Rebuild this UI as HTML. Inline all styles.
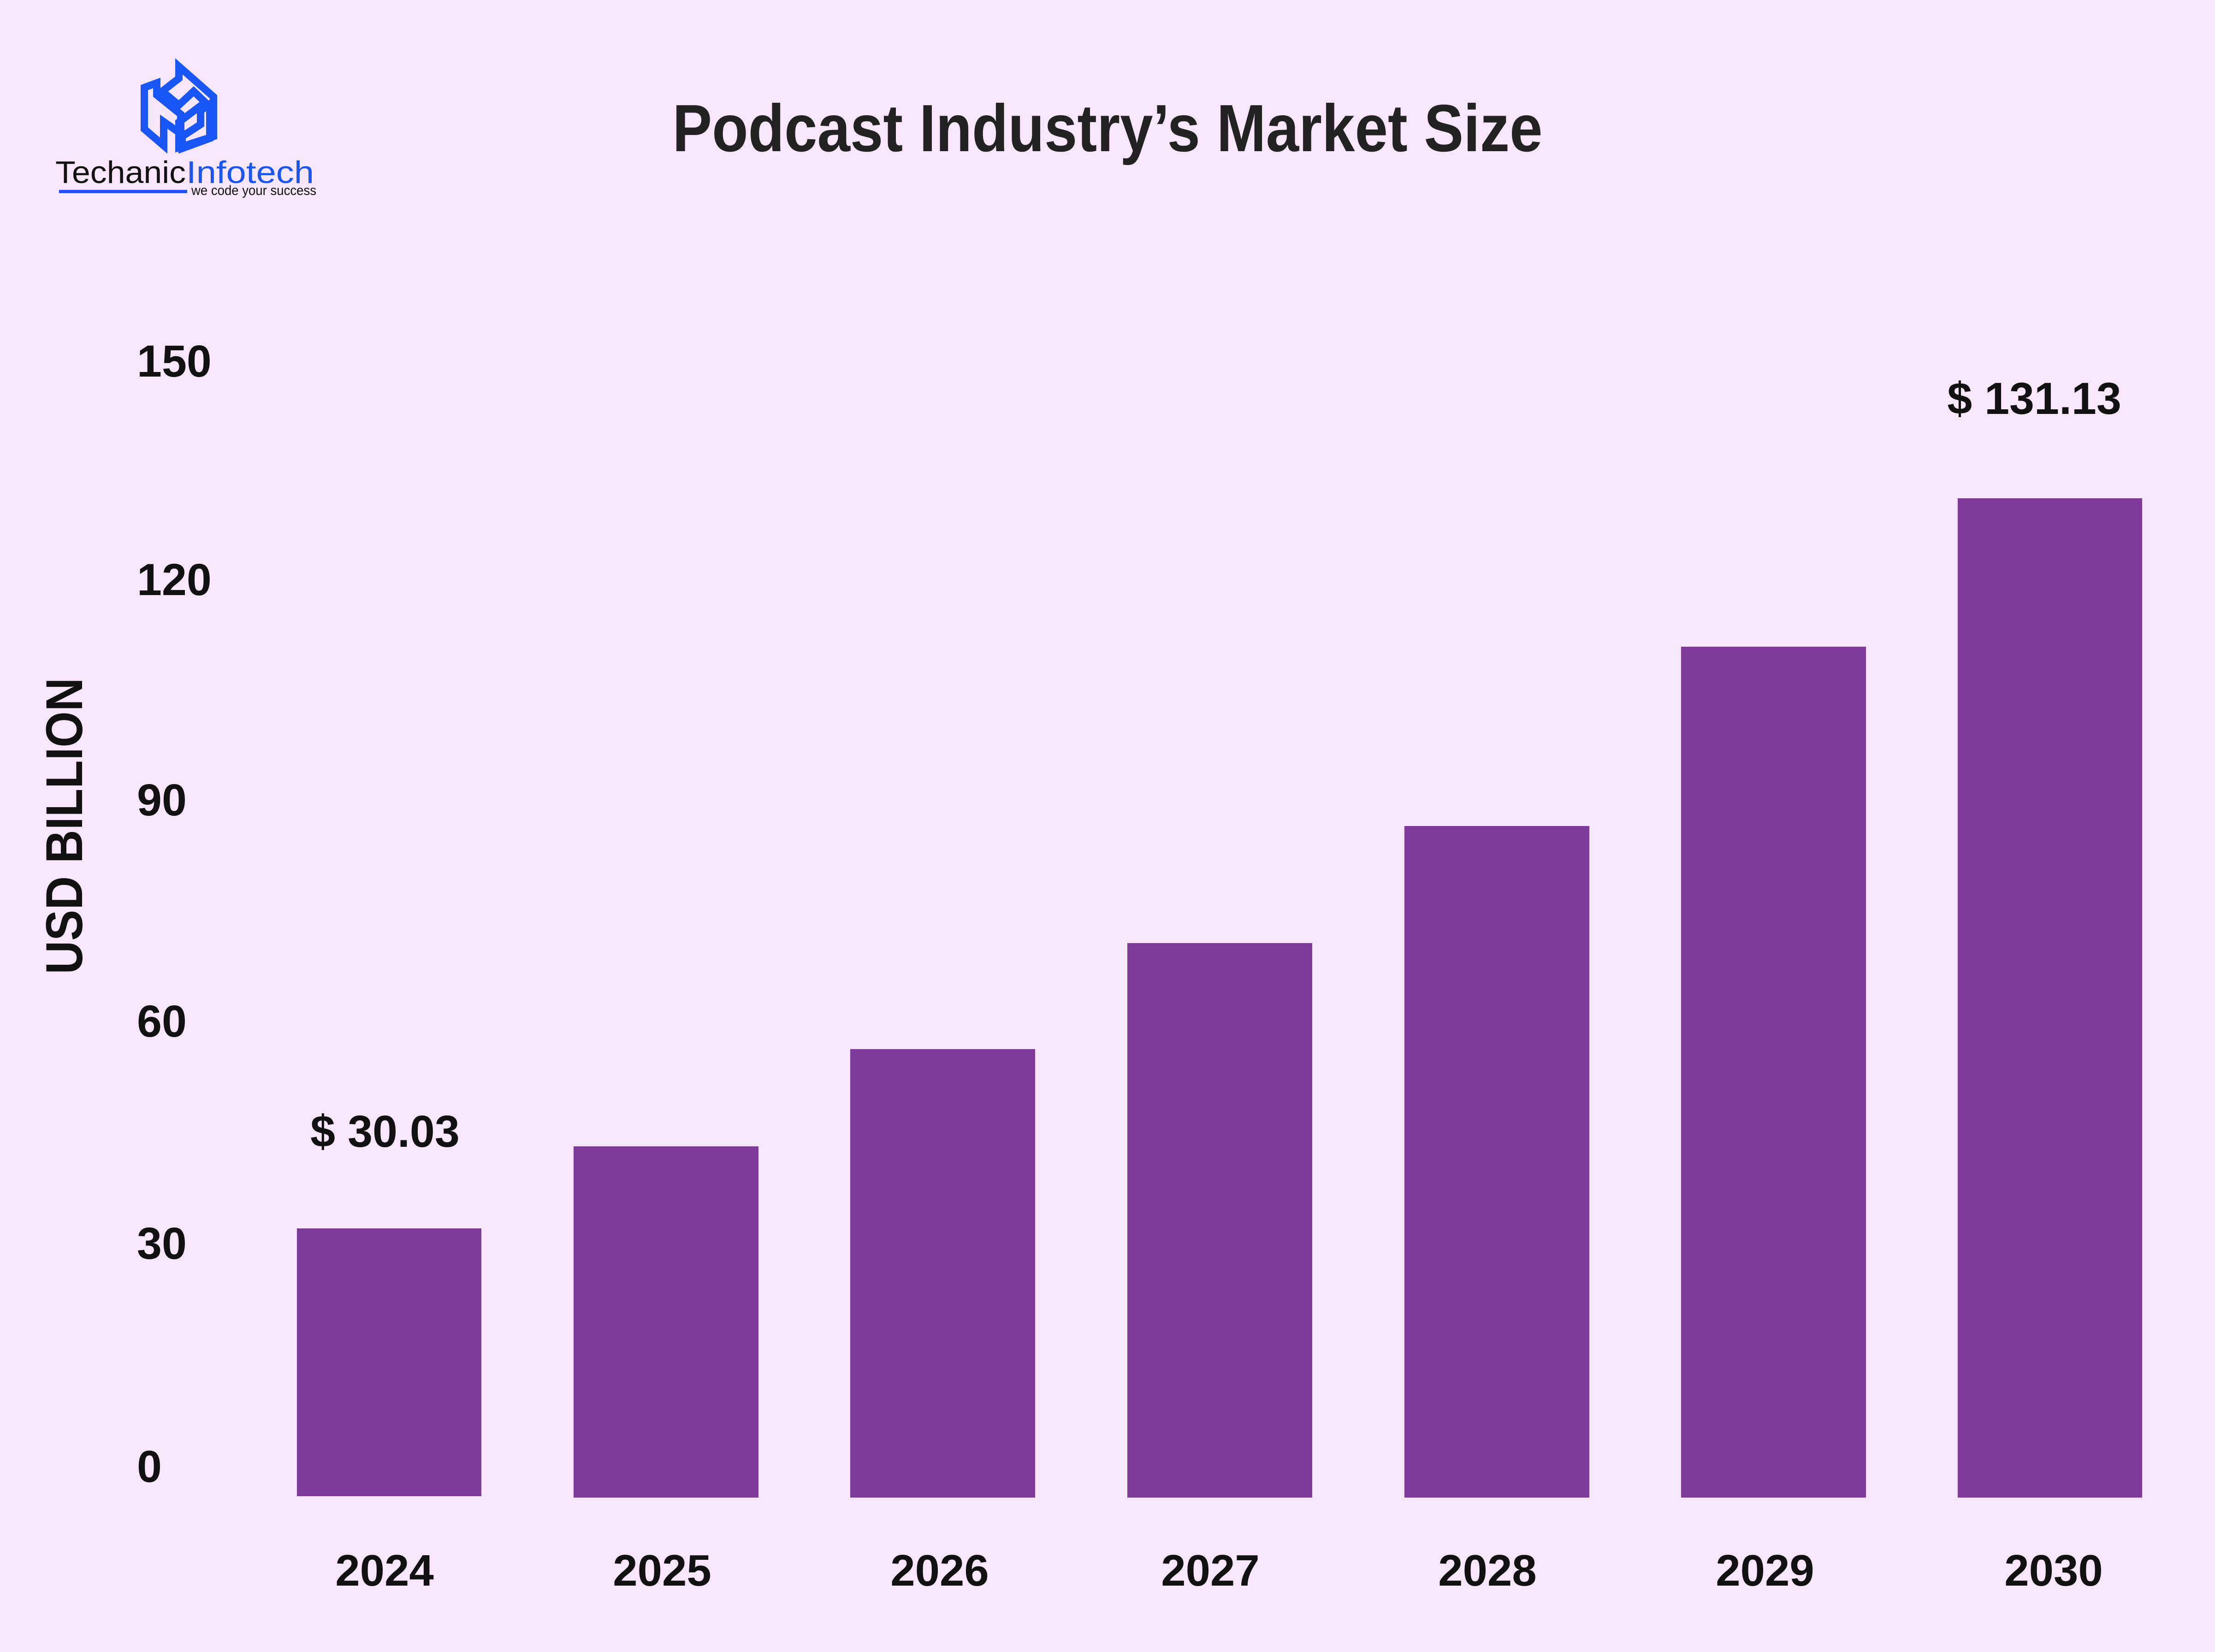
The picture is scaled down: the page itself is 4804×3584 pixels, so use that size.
<!DOCTYPE html>
<html><head><meta charset="utf-8"><style>
html,body{margin:0;padding:0;background:#f8e6fd;}
svg{display:block}
text{font-family:"Liberation Sans",Arial,sans-serif;}
</style></head><body>
<svg width="4804" height="3584" viewBox="0 0 4804 3584" xmlns="http://www.w3.org/2000/svg">
<rect width="4804" height="3584" fill="#f8e6fd"/>
<g fill="none" stroke="#1a56f5" stroke-width="16" stroke-linejoin="miter">
<polygon points="388,144 463,210 463,296 388,320 388,265 445,222 420,198 388,228 352,198 388,170"/>
<polygon points="313,190 313,280 355,316 355,264 392,290 392,248 340,206 340,180"/>
<polygon points="455,226 455,300 395,322 395,296 435,270 435,240"/>
</g>
<text x="120" y="397" font-size="68" fill="#111" textLength="283" lengthAdjust="spacingAndGlyphs">Techanic</text>
<text x="404" y="397" font-size="68" fill="#1a56f5" textLength="277" lengthAdjust="spacingAndGlyphs">Infotech</text>
<rect x="128" y="412" width="278" height="7" fill="#1a56f5"/>
<text x="415" y="423" font-size="30" fill="#111" textLength="271" lengthAdjust="spacingAndGlyphs">we code your success</text>
<text x="2402" y="328" font-size="145" font-weight="bold" fill="#222" text-anchor="middle" textLength="1887" lengthAdjust="spacingAndGlyphs">Podcast Industry’s Market Size</text>
<text transform="translate(178,1792) rotate(-90)" font-size="112" font-weight="bold" fill="#111" text-anchor="middle" textLength="643" lengthAdjust="spacingAndGlyphs">USD BILLION</text>
<g font-size="97" font-weight="bold" fill="#111">
<text x="297" y="817">150</text>
<text x="297" y="1291">120</text>
<text x="297" y="1769">90</text>
<text x="297" y="2249">60</text>
<text x="297" y="2731">30</text>
<text x="297" y="3215">0</text>
</g>
<g fill="#7f3b9b">
<rect x="644" y="2665" width="400" height="581"/>
<rect x="1244" y="2487" width="401" height="762"/>
<rect x="1844" y="2276" width="401" height="973"/>
<rect x="2445" y="2046" width="401" height="1203"/>
<rect x="3046" y="1792" width="401" height="1457"/>
<rect x="3646" y="1403" width="401" height="1846"/>
<rect x="4246" y="1081" width="400" height="2168"/>
</g>
<g font-size="97" font-weight="bold" fill="#111" text-anchor="middle">
<text x="835" y="2488">$ 30.03</text>
<text x="4412" y="898">$ 131.13</text>
</g>
<g font-size="96" font-weight="bold" fill="#111" text-anchor="middle">
<text x="834" y="3440">2024</text>
<text x="1436" y="3440">2025</text>
<text x="2038" y="3440">2026</text>
<text x="2625" y="3440">2027</text>
<text x="3226" y="3440">2028</text>
<text x="3828" y="3440">2029</text>
<text x="4454" y="3440">2030</text>
</g>
</svg>
</body></html>
